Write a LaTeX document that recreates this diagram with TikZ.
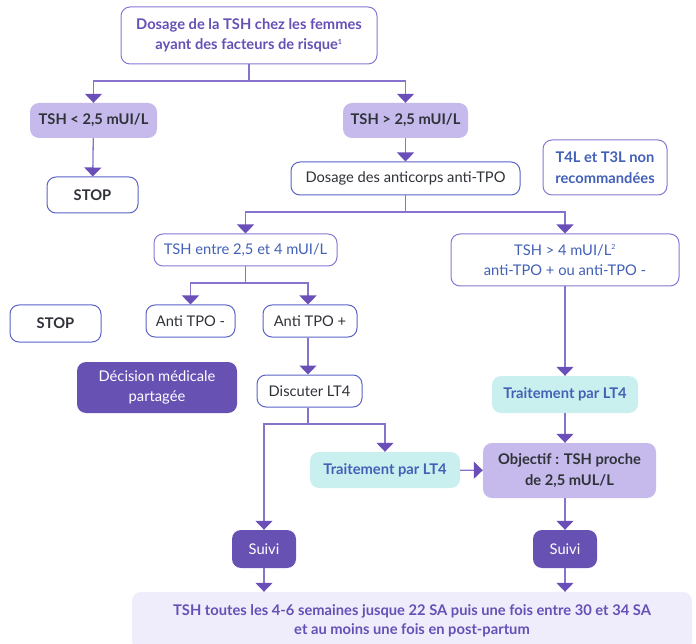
\documentclass[tikz,border=0pt]{standalone}
\usepackage{fontspec}
\setmainfont{Lato}
\usetikzlibrary{arrows.meta,positioning}

\definecolor{linepurple}{HTML}{8773CE}
\definecolor{tippurple}{HTML}{6A4FB8}
\definecolor{edgeblue}{HTML}{5A63C6}
\definecolor{edgepurple}{HTML}{8A76D2}
\definecolor{lightpurple}{HTML}{C5BAEB}
\definecolor{darkpurple}{HTML}{6752B4}
\definecolor{lightcyan}{HTML}{C9F0EF}
\definecolor{palepurple}{HTML}{EFEDFB}
\definecolor{textpurple}{HTML}{6650B6}
\definecolor{textblue}{HTML}{4260B6}
\definecolor{textgray}{HTML}{2F3238}

\begin{document}
\begin{tikzpicture}[x=1pt, y=-1pt,
    font=\fontsize{14.7}{20.5}\selectfont,
    box/.style = {rectangle, rounded corners=9pt, align=center, inner sep=0pt},
    outline/.style = {box, draw=edgeblue, line width=1pt, fill=white, text=textgray},
    question/.style = {box, draw=edgepurple, line width=1pt, fill=white, text=textblue},
    result/.style = {box, fill=lightpurple, text=textgray, font=\fontsize{14.7}{20.5}\selectfont\bfseries},
    treat/.style = {box, fill=lightcyan, text=textblue, font=\fontsize{14.7}{20.5}\selectfont\bfseries},
    follow/.style = {box, fill=darkpurple, text=white},
    link/.style = {draw=linepurple, line width=1.3pt},
    arr/.style = {link, -{Triangle[width=17pt, length=9pt, color=tippurple]}}]

    \useasboundingbox (0,0) rectangle (696,644);

    % noeuds
    \node[question, text=textpurple, font=\fontsize{14.7}{20.5}\selectfont\bfseries,
          minimum width=256pt, minimum height=57pt]               (top)      at (249,35.5) {Dosage de la TSH chez les femmes\\ayant des facteurs de risque\textsuperscript{\scriptsize 1}};
    \node[result, minimum width=127pt, minimum height=35pt]       (lt)       at (93.5,120.5) {TSH < 2,5 mUI/L};
    \node[result, minimum width=125pt, minimum height=35pt]       (gt)       at (405.5,120.5) {TSH > 2,5 mUI/L};
    \node[outline, font=\fontsize{14.7}{20.5}\selectfont\bfseries,
          minimum width=91pt, minimum height=36pt]                (stop_a)   at (92.5,195) {STOP};
    \node[outline, minimum width=229pt, minimum height=33pt]      (anti)     at (405.5,178.5) {Dosage des anticorps anti-TPO};
    \node[question, font=\fontsize{14.7}{20.5}\selectfont\bfseries,
          minimum width=124pt, minimum height=55pt]               (t4l)      at (605,167.5) {T4L et T3L non\\recommandées};
    \node[question, minimum width=183pt, minimum height=32pt]     (entre)    at (245.5,250) {TSH entre 2,5 et 4 mUI/L};
    \node[question, minimum width=228pt, minimum height=52pt]     (gt4)      at (565,260) {TSH > 4 mUI/L\textsuperscript{\scriptsize 2}\\anti-TPO + ou anti-TPO -};
    \node[outline, minimum width=89pt, minimum height=32pt]       (tpo_m)    at (190.5,321) {Anti TPO -};
    \node[outline, minimum width=94pt, minimum height=32pt]       (tpo_p)    at (310,321) {Anti TPO +};
    \node[outline, font=\fontsize{14.7}{20.5}\selectfont\bfseries,
          minimum width=91pt, minimum height=37pt]                (stop_b)   at (55.5,323.5) {STOP};
    \node[follow, minimum width=160pt, minimum height=51pt]       (decision) at (157,387.5) {Décision médicale\\partagée};
    \node[outline, minimum width=105pt, minimum height=32pt]      (discuter) at (309.5,391) {Discuter LT4};
    \node[treat, minimum width=150pt, minimum height=36pt]        (trait_a)  at (385,470) {Traitement par LT4};
    \node[treat, minimum width=146pt, minimum height=37pt]        (trait_b)  at (565,394.5) {Traitement par LT4};
    \node[result, minimum width=173pt, minimum height=55pt]       (objectif) at (569.5,470.5) {Objectif : TSH proche\\de 2,5 mUL/L};
    \node[follow, minimum width=64pt, minimum height=38pt]        (suivi_a)  at (264,549) {Suivi};
    \node[follow, minimum width=64pt, minimum height=38pt]        (suivi_b)  at (565,549) {Suivi};
    \node[box, fill=palepurple, text=textpurple, font=\fontsize{14.7}{19}\selectfont\bfseries,
          minimum width=560pt, minimum height=58pt]               (bilan)    at (412,621) {TSH toutes les 4-6 semaines jusque 22 SA puis une fois entre 30 et 34 SA\\et au moins une fois en post-partum};

    % embranchements
    \coordinate (split_a) at (249,81);
    \coordinate (split_b) at (405.5,212);
    \coordinate (split_c) at (245.5,283);
    \coordinate (split_d) at (308,424);

    % connecteurs
    \draw[link] (top) -- (split_a);
    \draw[arr] (split_a) -| (lt);
    \draw[arr] (split_a) -| (gt);
    \draw[arr] (lt) -- (stop_a);
    \draw[arr] (gt) -- (anti);
    \draw[link] (anti) -- (split_b);
    \draw[arr] (split_b) -| (entre);
    \draw[arr] (split_b) -| (gt4);
    \draw[link] (entre) -- (split_c);
    \draw[arr] (split_c) -| (tpo_m);
    \draw[arr] (split_c) -| (tpo_p.north -| split_d);
    \draw[arr] (tpo_p.south -| split_d) -- (discuter.north -| split_d);
    \draw[link] (discuter.south -| split_d) -- (split_d);
    \draw[arr] (split_d) -| (suivi_a);
    \draw[arr] (split_d) -| (trait_a);
    \draw[arr] (trait_a) -- (objectif);
    \draw[arr] (gt4) -- (trait_b);
    \draw[arr] (trait_b) -- (trait_b.south |- objectif.north);
    \draw[arr] (objectif.south -| suivi_b) -- (suivi_b);
    \draw[arr] (suivi_a) -- (suivi_a.south |- bilan.north);
    \draw[arr] (suivi_b) -- (suivi_b.south |- bilan.north);
\end{tikzpicture}
\end{document}
